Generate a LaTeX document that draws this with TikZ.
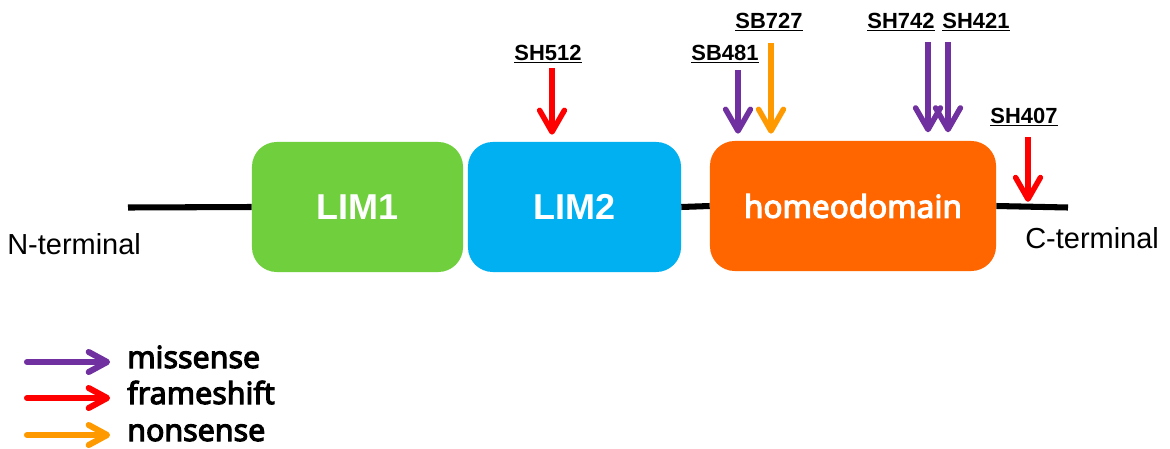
\documentclass[tikz,border=0pt]{standalone}
\usepackage{fontspec}
\setmainfont{Liberation Sans}
\newfontfamily\gothic{Noto Sans}[AutoFakeBold=3.6]
\usetikzlibrary{arrows.meta}

\definecolor{limgreen}{HTML}{6FCF3D}
\definecolor{limblue}{HTML}{00B0F0}
\definecolor{hdorange}{HTML}{FF6600}
\definecolor{mispurple}{HTML}{7030A0}
\definecolor{fsred}{HTML}{FF0000}
\definecolor{nsorange}{HTML}{FF9900}

\tikzset{
  protbox/.style={rounded corners=0.62cm, minimum height=3.25cm, inner sep=0pt, text=white},
  mutlabel/.style={anchor=base, inner sep=0pt, font=\fontsize{15.6}{18}\selectfont\bfseries},
  termlabel/.style={anchor=base west, inner sep=0pt, font=\fontsize{20.6}{24}\selectfont},
  leglabel/.style={anchor=base west, inner sep=0pt, font=\gothic\bfseries\fontsize{21.6}{25}\selectfont},
  backbone/.style={line width=4.3pt},
  mutarrow/.style={line width=3.9pt, -{Straight Barb[length=5.4mm,width=6.2mm,round]}},
  legarrow/.style={line width=4.3pt, line cap=round, -{Straight Barb[length=4.6mm,width=5mm,round]}},
  missense/.style={draw=mispurple},
  frameshift/.style={draw=fsred},
  nonsense/.style={draw=nsorange}
}

\begin{document}
\begin{tikzpicture}[x=0.025cm, y=-0.025cm]
  \useasboundingbox (0,0) rectangle (1170,448);

  % protein domains
  \node[protbox, fill=limgreen, minimum width=5.275cm, font=\fontsize{25.6}{30}\selectfont\bfseries] (lim1) at (357.5,207) {LIM1};
  \node[protbox, fill=limblue, minimum width=5.325cm, font=\fontsize{25.6}{30}\selectfont\bfseries] (lim2) at (574.5,207) {LIM2};
  \node[protbox, fill=hdorange, minimum width=7.15cm, font=\gothic\bfseries\fontsize{22.4}{26}\selectfont] (hd) at (853,206) {homeodomain};

  % backbone
  \coordinate (nend) at (128,207.5);
  \coordinate (cend) at (1068,207.5);
  \draw[backbone] (nend) -- (lim1.west);
  \draw[backbone] (lim2.east) -- (hd.west);
  \draw[backbone] (hd.east) -- (cend);

  \node[termlabel] (nterm) at (7,254) {N-terminal};
  \node[termlabel] (cterm) at (1025,248) {C-terminal};

  % mutations
  \node[mutlabel] (sh512) at (548,60) {\underline{SH512}};
  \node[mutlabel] (sb481) at (725,60) {\underline{SB481}};
  \node[mutlabel] (sb727) at (769,28) {\underline{SB727}};
  \node[mutlabel] (sh742) at (901,28) {\underline{SH742}};
  \node[mutlabel] (sh421) at (976,28) {\underline{SH421}};
  \node[mutlabel] (sh407) at (1024,123) {\underline{SH407}};

  \coordinate (a512) at (552,68);
  \coordinate (a481) at (738,70);
  \coordinate (a727) at (771,43);
  \coordinate (a742) at (928,42);
  \coordinate (a421) at (948,42);
  \coordinate (a407) at (1028,137);

  \draw[mutarrow, frameshift, shorten >=5] (a512) -- (a512 |- lim2.north);
  \draw[mutarrow, missense, shorten >=5] (a481) -- (a481 |- hd.north);
  \draw[mutarrow, nonsense, shorten >=5] (a727) -- (a727 |- hd.north);
  \draw[mutarrow, missense, shorten >=6] (a742) -- (a742 |- hd.north);
  \draw[mutarrow, missense, shorten >=6] (a421) -- (a421 |- hd.north);
  \draw[mutarrow, frameshift, shorten >=4] (a407) -- (a407 |- cend);

  % legend
  \node[leglabel] (legmis) at (127,368) {missense};
  \node[leglabel] (legfs) at (127,404) {frameshift};
  \node[leglabel] (legns) at (127,441) {nonsense};
  \coordinate (lmis) at (27,362);
  \coordinate (lfs) at (27,398);
  \coordinate (lns) at (27,435);
  \draw[legarrow, missense, shorten >=12] (lmis) -- (lmis -| legmis.west);
  \draw[legarrow, frameshift, shorten >=12] (lfs) -- (lfs -| legfs.west);
  \draw[legarrow, nonsense, shorten >=12] (lns) -- (lns -| legns.west);
\end{tikzpicture}
\end{document}
